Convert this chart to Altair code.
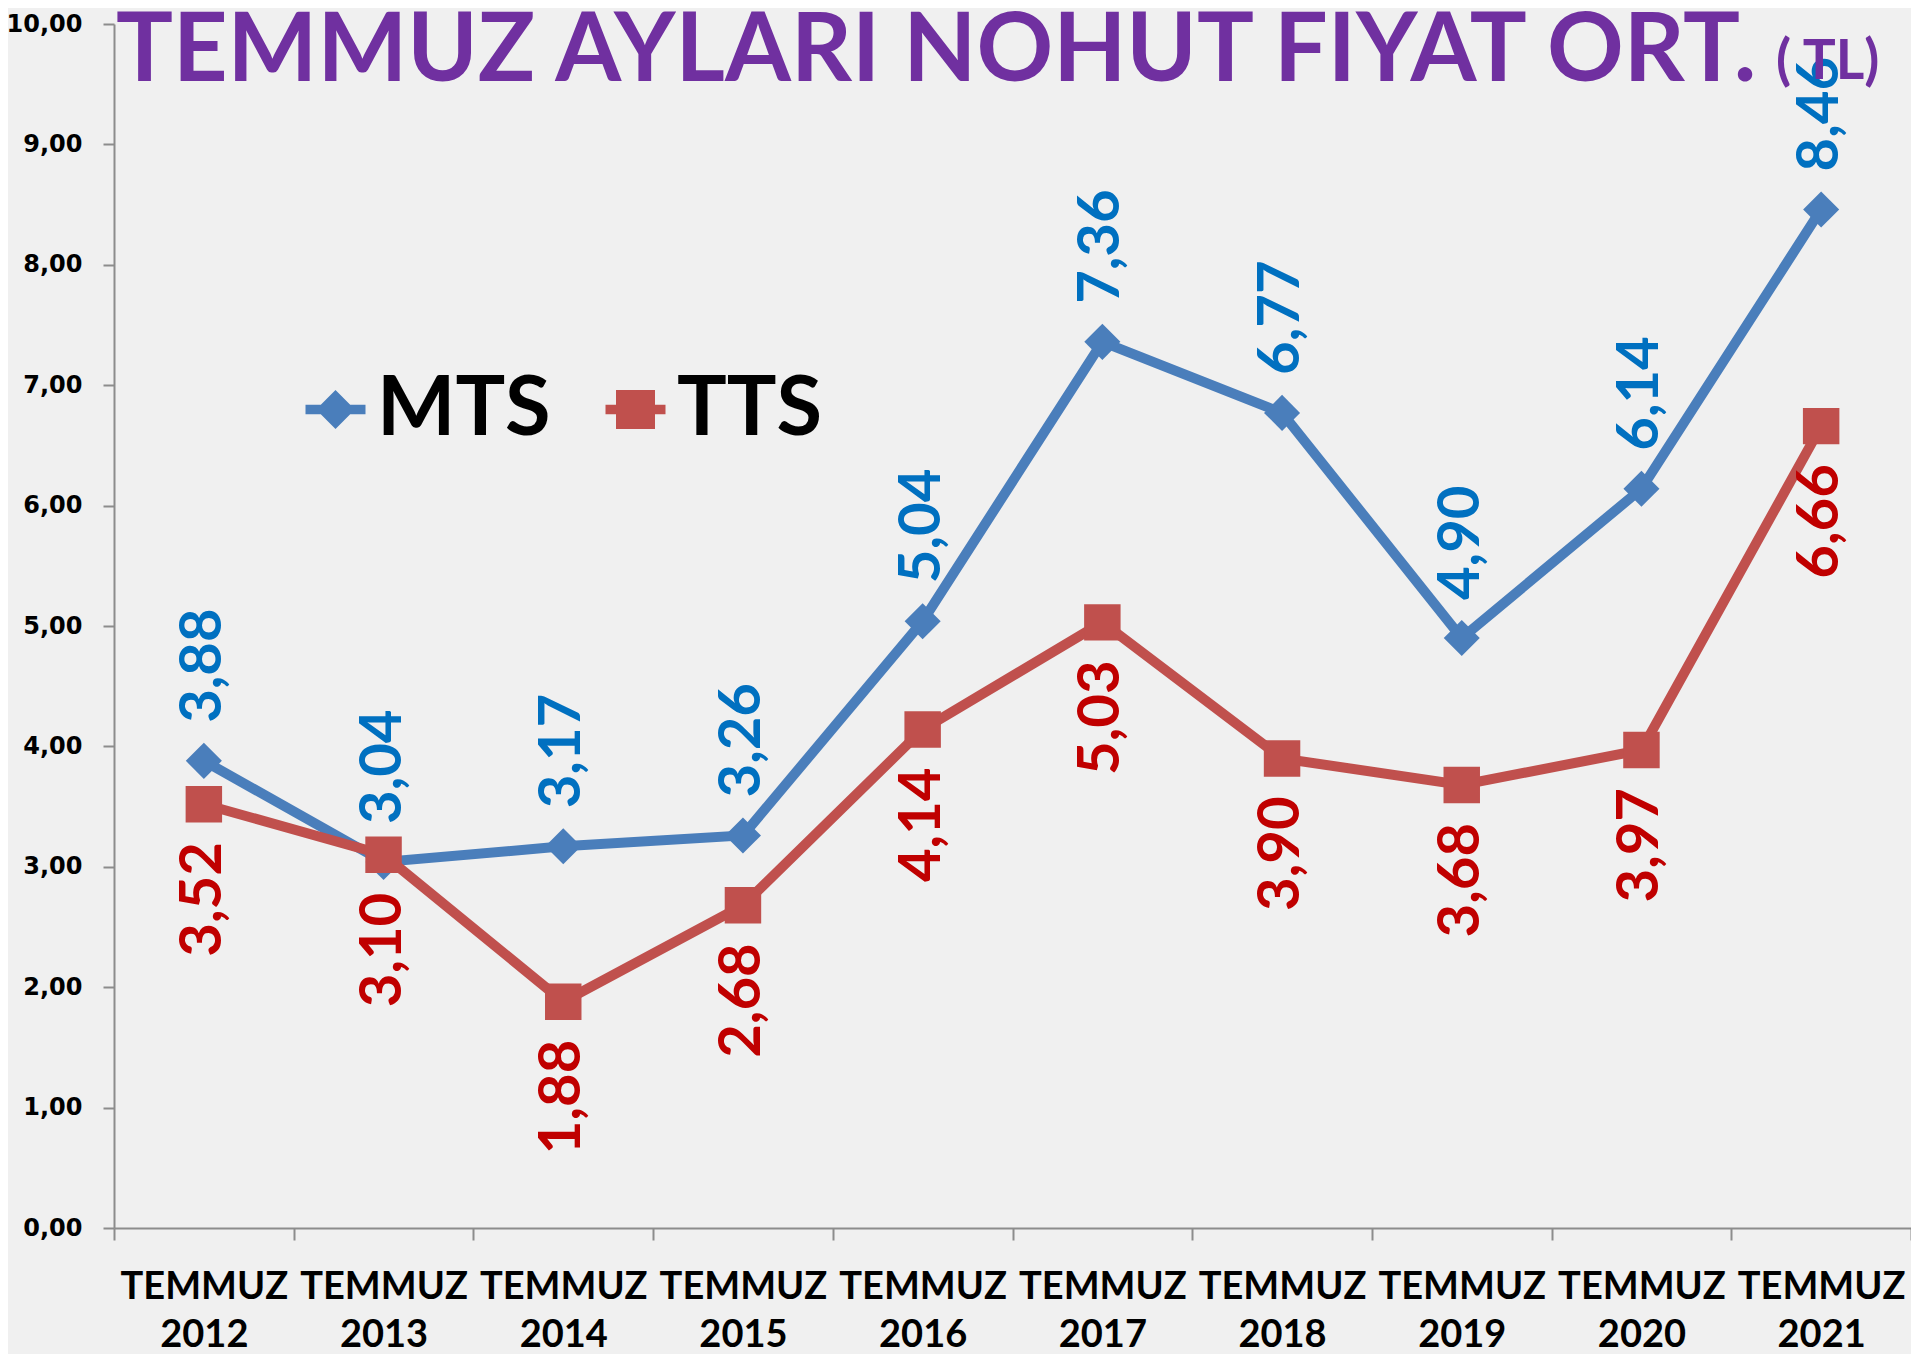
import altair as alt
import pandas as pd

# ---- data ----
years = ["2012", "2013", "2014", "2015", "2016", "2017", "2018", "2019", "2020", "2021"]
mts = [3.88, 3.04, 3.17, 3.26, 5.04, 7.36, 6.77, 4.90, 6.14, 8.46]
tts = [3.52, 3.10, 1.88, 2.68, 4.14, 5.03, 3.90, 3.68, 3.97, 6.66]
series = ["MTS", "TTS"]
y_ticks = [0, 1, 2, 3, 4, 5, 6, 7, 8, 9, 10]
title_text = ["TEMMUZ AYLARI NOHUT FİYAT ORT."]
unit_text = ["( TL)"]

line_colors = ["#4A7EBB", "#C0504D"]
label_colors = ["#0070C0", "#C00000"]
FONT = "Lato"

rows = []
for i, yr in enumerate(years):
    rows.append({"yil": yr, "seri": "MTS", "deger": mts[i]})
    rows.append({"yil": yr, "seri": "TTS", "deger": tts[i]})
df = pd.DataFrame(rows)

diamond_bar = ("M-1,-0.16L-0.49,-0.16L0,-0.65L0.49,-0.16L1,-0.16L1,0.16"
               "L0.49,0.16L0,0.65L-0.49,0.16L-1,0.16Z")
square_bar = ("M-1,-0.16L-0.65,-0.16L-0.65,-0.65L0.65,-0.65L0.65,-0.16L1,-0.16"
              "L1,0.16L0.65,0.16L0.65,0.65L-0.65,0.65L-0.65,0.16L-1,0.16Z")


def make_legend(lx):
    return alt.Legend(
        title=None,
        orient="none",
        legendX=lx,
        legendY=344,
        direction="horizontal",
        labelFontSize=83,
        labelFont=FONT,
        labelFontWeight="bold",
        labelColor="#000000",
        labelOffset=0,
        labelLimit=0,
        symbolSize=3600,
        symbolStrokeWidth=0,
        symbolOpacity=1,
    )


x_enc = alt.X(
    "yil:N",
    sort=years,
    scale=alt.Scale(type="band", paddingInner=0, paddingOuter=0),
    axis=alt.Axis(
        title=None,
        labelAngle=0,
        labelExpr="datum.label ? ['TEMMUZ', datum.label] : ''",
        tickBand="extent",
        tickSize=12,
        labelPadding=28,
        labelFontSize=38,
        labelLineHeight=48,
        labelBaseline="top",
        labelFont=FONT,
        labelFontWeight="bold",
        labelColor="#000000",
        labelOverlap=False,
        domainColor="#8C8C8C",
        tickColor="#8C8C8C",
        domainWidth=2,
        tickWidth=2,
    ),
)
y_enc = alt.Y(
    "deger:Q",
    scale=alt.Scale(domain=[0, 10], nice=False, zero=True),
    axis=alt.Axis(
        title=None,
        values=y_ticks,
        grid=False,
        labelExpr="replace(format(datum.value, '.2f'), '.', ',')",
        labelFont="DejaVu Sans",
        labelFontWeight="bold",
        labelFontSize=24,
        labelColor="#000000",
        labelPadding=21,
        tickSize=11,
        domainColor="#8C8C8C",
        tickColor="#8C8C8C",
        domainWidth=2,
        tickWidth=2,
    ),
)
color_scale = alt.Scale(domain=series, range=line_colors)

base = alt.Chart(df)

lines = base.mark_line(strokeWidth=10).encode(
    x=x_enc, y=y_enc, color=alt.Color("seri:N", scale=color_scale, legend=None)
)

points = base.mark_point(filled=True, opacity=1).encode(
    x=x_enc,
    y=y_enc,
    color=alt.Color("seri:N", scale=color_scale, legend=None),
    shape=alt.Shape("seri:N", scale=alt.Scale(domain=series, range=["diamond", "square"]), legend=None),
    size=alt.Size("seri:N", scale=alt.Scale(domain=series, range=[1300, 1330]), legend=None),
)

# legend-only layers (no marks drawn; entries come from the explicit scale domains)
legend_m = base.transform_filter("false").transform_calculate(m="'MTS'").mark_point(
    filled=True, opacity=1, color=line_colors[0]
).encode(
    shape=alt.Shape("m:N", scale=alt.Scale(domain=[series[0]], range=[diamond_bar]), legend=make_legend(180)),
)
legend_t = base.transform_filter("false").transform_calculate(t="'TTS'").mark_point(
    filled=True, opacity=1, color=line_colors[1]
).encode(
    shape=alt.Shape("t:N", scale=alt.Scale(domain=[series[1]], range=[square_bar]), legend=make_legend(480)),
)

label_base = base.transform_calculate(
    etiket="replace(format(datum.deger, '.2f'), '.', ',')"
)

mts_labels = label_base.transform_filter("datum.seri === 'MTS'").mark_text(
    angle=270, align="left", baseline="middle", dx=38,
    font=FONT, fontWeight="bold", fontSize=58, color=label_colors[0],
).encode(x=x_enc, y=y_enc, text="etiket:N")

tts_labels = label_base.transform_filter("datum.seri === 'TTS'").mark_text(
    angle=270, align="right", baseline="middle", dx=-38,
    font=FONT, fontWeight="bold", fontSize=58, color=label_colors[1],
).encode(x=x_enc, y=y_enc, text="etiket:N")

title = alt.Chart(pd.DataFrame({"t": title_text})).mark_text(
    align="left", baseline="alphabetic", font=FONT, fontWeight="bold",
    fontSize=95, color="#7030A0",
).encode(text="t:N", x=alt.value(2), y=alt.value(57))

unit = alt.Chart(pd.DataFrame({"t": unit_text})).mark_text(
    align="left", baseline="alphabetic", font=FONT, fontWeight="bold",
    fontSize=55, color="#7030A0",
).encode(text="t:N", x=alt.value(1662), y=alt.value(55))

chart = alt.layer(
    lines, points, legend_m, legend_t, mts_labels, tts_labels, title, unit
).resolve_scale(
    shape="independent"
).properties(
    width=1797,
    height=1204,
    padding={"left": 106, "top": 16, "right": 0, "bottom": 126},
    autosize=alt.AutoSizeParams(type="none"),
    background="#F0F0F0",
).configure_view(stroke=None)

chart.save("out.html", embed_options={"renderer": "svg", "actions": False})
